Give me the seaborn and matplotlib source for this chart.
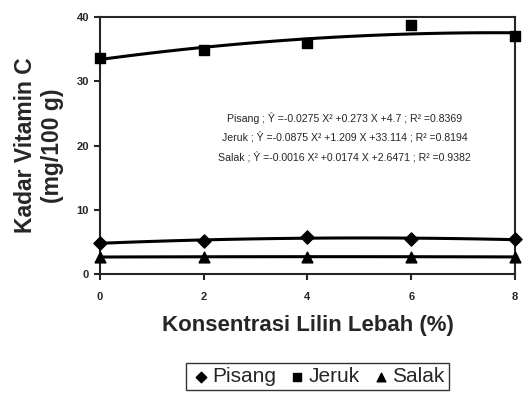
import matplotlib
matplotlib.use("Agg")
import matplotlib.pyplot as plt
import seaborn as sns
import pandas as pd

# --- Data ---
konsentrasi = [0, 2, 4, 6, 8]
pisang = [4.8, 5.2, 5.8, 5.4, 5.4]
jeruk = [33.7, 34.9, 35.9, 38.7, 37.0]
salak = [2.65, 2.68, 2.70, 2.70, 2.66]

persamaan = [
    "Pisang ; Ŷ =-0.0275 X² +0.273 X +4.7 ; R² =0.8369",
    "Jeruk ; Ŷ =-0.0875 X² +1.209 X +33.114 ; R² =0.8194",
    "Salak ; Ŷ =-0.0016 X² +0.0174 X +2.6471 ; R² =0.9382",
]

df = pd.DataFrame({"x": konsentrasi, "Pisang": pisang, "Jeruk": jeruk, "Salak": salak})

sns.set_style("ticks")
plt.rcParams["font.family"] = ["Liberation Sans", "DejaVu Sans"]

fig = plt.figure(figsize=(5.32, 3.96), dpi=100)
ax = fig.add_axes([0.188, 0.308, 0.78, 0.649])

markers = {"Pisang": "D", "Jeruk": "s", "Salak": "^"}
sizes = {"Pisang": 45, "Jeruk": 60, "Salak": 60}
for name in ["Pisang", "Jeruk", "Salak"]:
    sns.regplot(data=df, x="x", y=name, order=2, ci=None, ax=ax, color="black",
                marker=markers[name], label=name,
                scatter_kws=dict(s=sizes[name], clip_on=False, alpha=1, zorder=4),
                line_kws=dict(lw=2.2, clip_on=False))

ax.set_xlim(0, 8)
ax.set_ylim(0, 40)
ax.set_xticks([0, 2, 4, 6, 8])
ax.set_yticks([0, 10, 20, 30, 40])
for lab in ax.get_xticklabels() + ax.get_yticklabels():
    lab.set_fontweight("bold")
    lab.set_fontsize(8)
ax.tick_params(axis="x", length=4, width=1.5, pad=9)
ax.tick_params(axis="y", length=4, width=1.5, pad=4)
for sp in ax.spines.values():
    sp.set_linewidth(1.5)
    sp.set_visible(True)

ax.set_xlabel("Konsentrasi Lilin Lebah (%)", fontsize=16, fontweight="bold", labelpad=9)
ax.set_ylabel("Kadar Vitamin C\n(mg/100 g)", fontsize=16.5, fontweight="bold", labelpad=9,
              linespacing=1.2)

for i, t in enumerate(persamaan):
    ax.text(0.59, 0.607 - i * 0.077, t, transform=ax.transAxes, ha="center", va="center",
            fontsize=7.6)

leg = ax.legend(loc="upper center", bbox_to_anchor=(0.524, -0.305), ncol=3, frameon=True,
                fancybox=False, edgecolor="black", fontsize=15, handletextpad=0.05,
                columnspacing=0.5, borderpad=0.2, handlelength=1.0, markerscale=0.8)
leg.get_frame().set_linewidth(1.0)

fig.savefig("out.png", dpi=100)
